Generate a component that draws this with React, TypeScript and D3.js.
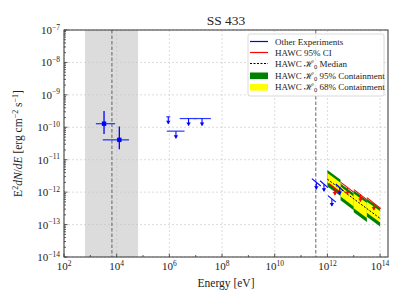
import React, { useRef, useEffect } from 'react';
import * as d3 from 'd3';

const W = 407;
const H = 305;
const PLOT = { left: 64, right: 388, top: 30, bottom: 257 };
const FONT = "'Liberation Serif', 'DejaVu Serif', serif";

// ==================== DATA ====================
// other experiments: flux points with error bars
const ptE = [3.31e3, 1.26e4];
const ptELo = [1.62e3, 2.95e3];
const ptEHi = [8.71e3, 2.95e4];
const ptF = [1.29e-10, 4.1e-11];
const ptFLo = [6.17e-11, 2.09e-11];
const ptFHi = [3.16e-10, 1.05e-10];

// other experiments: flat upper limits
const ulE = [9.1e5, 1.78e6, 5.37e6, 1.74e7];
const ulELo = [9.1e5, 9.55e5, 2.95e6, 9.55e6];
const ulEHi = [9.1e5, 3.16e6, 9.55e6, 3.16e7];
const ulF = [2.1e-10, 7.6e-11, 1.86e-10, 1.86e-10];

// other experiments: sloped upper limits (TeV)
const blueE1 = [2.57e11, 5.25e11, 1.05e12, 2.09e12];
const blueE2 = [5.62e11, 1.05e12, 2.09e12, 4.17e12];
const blueF1 = [2.6e-12, 2.24e-12, 7.8e-13, 1.78e-12];
const blueF2 = [1.55e-12, 1.38e-12, 4.9e-13, 1.07e-12];

// HAWC 95% CI upper limits per bin
const redE1 = [1.15e12, 3.24e12, 1.02e13, 3.16e13];
const redE2 = [3.24e12, 1.02e13, 3.16e13, 1.07e14];
const redF1 = [1.85e-12, 2.0e-12, 1.2e-12, 6.8e-13];
const redF2 = [9.6e-13, 9.8e-13, 5.9e-13, 3.1e-13];

// HAWC H0 containment bands per energy bin
const binLo = [1e12, 3.16e12, 1e13, 3.16e13];
const binHi = [3.16e12, 1e13, 3.16e13, 1e14];
const hi95Start = [4.8e-12, 1.86e-12, 1.12e-12, 6.3e-13];
const hi95End = [2.4e-12, 9.1e-13, 5.6e-13, 3.2e-13];
const hi68Start = [3.9e-12, 1.5e-12, 9.1e-13, 5.1e-13];
const hi68End = [1.95e-12, 7.4e-13, 4.6e-13, 2.6e-13];
const lo68Start = [2.0e-12, 7.4e-13, 3.2e-13, 2.3e-13];
const lo68End = [1.0e-12, 3.6e-13, 1.6e-13, 1.15e-13];
const lo95Start = [1.5e-12, 5.6e-13, 2.4e-13, 1.74e-13];
const lo95End = [7.6e-13, 2.75e-13, 1.2e-13, 8.7e-14];

// HAWC H0 median
const medE = [1e12, 1e14];
const medF = [2.5e-12, 1.55e-13];

// shaded region + reference lines
const bandE = [6.3e2, 6.5e4];
const bandMidE = 6.6e3;
const refLineE = 3.63e11;

const xTicks = [1e2, 1e4, 1e6, 1e8, 1e10, 1e12, 1e14];
const xTickExp = ['2', '4', '6', '8', '10', '12', '14'];
const yTicks = [1e-14, 1e-13, 1e-12, 1e-11, 1e-10, 1e-9, 1e-8, 1e-7];
const yTickExp = ['−14', '−13', '−12', '−11', '−10', '−9', '−8', '−7'];

const legendLabels = ['Other Experiments', 'HAWC 95% CI', 'HAWC ', 'HAWC ', 'HAWC '];

const App = () => {
    const svgRef = useRef<SVGSVGElement>(null);

    useEffect(() => {
        const svg = d3.select(svgRef.current);
        svg.selectAll('*').remove();

        const x = d3.scaleLog().domain([1e2, 2e14]).range([PLOT.left, PLOT.right]);
        const y = d3.scaleLog().domain([1e-14, 1e-7]).range([PLOT.bottom, PLOT.top]);

        svg.append('rect').attr('width', W).attr('height', H).attr('fill', '#fff');

        // grey shaded region
        svg.append('rect')
            .attr('x', x(bandE[0])).attr('y', PLOT.top)
            .attr('width', x(bandE[1]) - x(bandE[0]))
            .attr('height', PLOT.bottom - PLOT.top)
            .attr('fill', '#dcdcdc');

        // grid
        const grid = svg.append('g').attr('stroke', '#c4c4c4').attr('stroke-width', 0.6).attr('stroke-dasharray', '2,2');
        xTicks.forEach(t => grid.append('line').attr('x1', x(t)).attr('x2', x(t)).attr('y1', PLOT.top).attr('y2', PLOT.bottom));
        yTicks.forEach(t => grid.append('line').attr('x1', PLOT.left).attr('x2', PLOT.right).attr('y1', y(t)).attr('y2', y(t)));

        // vertical dashed reference lines
        [bandMidE, refLineE].forEach(e => {
            svg.append('line')
                .attr('x1', x(e)).attr('x2', x(e)).attr('y1', PLOT.top).attr('y2', PLOT.bottom)
                .attr('stroke', '#555').attr('stroke-width', 0.9).attr('stroke-dasharray', '3.5,2');
        });

        // HAWC containment bands
        const bandPath = (i: number, hiS: number[], hiE: number[], loS: number[], loE: number[]) =>
            `M${x(binLo[i])},${y(hiS[i])} L${x(binHi[i])},${y(hiE[i])} L${x(binHi[i])},${y(loE[i])} L${x(binLo[i])},${y(loS[i])} Z`;
        binLo.forEach((_, i) => {
            svg.append('path').attr('d', bandPath(i, hi95Start, hi95End, lo95Start, lo95End)).attr('fill', '#008000');
        });
        binLo.forEach((_, i) => {
            svg.append('path').attr('d', bandPath(i, hi68Start, hi68End, lo68Start, lo68End)).attr('fill', '#ffff00');
        });

        // median
        const line = d3.line<number>().x((_, i) => x(medE[i])).y(d => y(d));
        svg.append('path').attr('d', line(medF)).attr('fill', 'none')
            .attr('stroke', '#000').attr('stroke-width', 1).attr('stroke-dasharray', '2,1.5');

        const arrow = (g: any, cx: number, cy: number, color: string) => {
            const len = 7;
            g.append('line').attr('x1', cx).attr('x2', cx).attr('y1', cy).attr('y2', cy + len)
                .attr('stroke', color).attr('stroke-width', 1.1);
            g.append('path')
                .attr('d', `M${cx - 2.2},${cy + len - 3} L${cx + 2.2},${cy + len - 3} L${cx},${cy + len + 0.5} Z`)
                .attr('fill', color);
        };

        const slopedLimits = (e1: number[], e2: number[], f1: number[], f2: number[], color: string) => {
            const g = svg.append('g');
            e1.forEach((_, i) => {
                g.append('line')
                    .attr('x1', x(e1[i])).attr('y1', y(f1[i])).attr('x2', x(e2[i])).attr('y2', y(f2[i]))
                    .attr('stroke', color).attr('stroke-width', 1.1);
                const em = Math.sqrt(e1[i] * e2[i]);
                const fm = Math.sqrt(f1[i] * f2[i]);
                arrow(g, x(em), y(fm), color);
            });
        };
        slopedLimits(redE1, redE2, redF1, redF2, '#ff0000');
        slopedLimits(blueE1, blueE2, blueF1, blueF2, '#0000ff');

        // flat upper limits
        const ulG = svg.append('g');
        ulE.forEach((e, i) => {
            ulG.append('line').attr('x1', x(ulELo[i]) - 2).attr('x2', x(ulEHi[i]) + 2)
                .attr('y1', y(ulF[i])).attr('y2', y(ulF[i]))
                .attr('stroke', '#2a3cff').attr('stroke-width', 1.2);
            arrow(ulG, x(e), y(ulF[i]), '#0000ff');
        });

        // flux points
        const ptG = svg.append('g');
        ptE.forEach((e, i) => {
            ptG.append('line').attr('x1', x(ptELo[i])).attr('x2', x(ptEHi[i])).attr('y1', y(ptF[i])).attr('y2', y(ptF[i]))
                .attr('stroke', '#2a3cff').attr('stroke-width', 1.3);
            ptG.append('line').attr('x1', x(e)).attr('x2', x(e)).attr('y1', y(ptFLo[i])).attr('y2', y(ptFHi[i]))
                .attr('stroke', '#0000ff').attr('stroke-width', 1.3);
            ptG.append('rect').attr('x', x(e) - 2.2).attr('y', y(ptF[i]) - 2.2).attr('width', 4.4).attr('height', 4.4)
                .attr('fill', '#0000ff');
        });

        // axes frame
        svg.append('rect')
            .attr('x', PLOT.left).attr('y', PLOT.top)
            .attr('width', PLOT.right - PLOT.left).attr('height', PLOT.bottom - PLOT.top)
            .attr('fill', 'none').attr('stroke', '#333').attr('stroke-width', 1);

        // ticks (inward)
        const tk = svg.append('g').attr('stroke', '#333').attr('stroke-width', 0.8);
        xTicks.forEach(t => tk.append('line').attr('x1', x(t)).attr('x2', x(t)).attr('y1', PLOT.bottom).attr('y2', PLOT.bottom - 3.5));
        d3.range(3, 15, 2).forEach(p => tk.append('line').attr('x1', x(Math.pow(10, p))).attr('x2', x(Math.pow(10, p)))
            .attr('y1', PLOT.bottom).attr('y2', PLOT.bottom - 2));
        yTicks.forEach(t => tk.append('line').attr('x1', PLOT.left).attr('x2', PLOT.left + 3.5).attr('y1', y(t)).attr('y2', y(t)));
        yTicks.slice(0, -1).forEach(t => {
            d3.range(2, 10).forEach(k => {
                const yy = y(t * k);
                tk.append('line').attr('x1', PLOT.left).attr('x2', PLOT.left + 2).attr('y1', yy).attr('y2', yy);
            });
        });

        // tick labels
        xTicks.forEach((t, i) => {
            const txt = svg.append('text').attr('x', x(t)).attr('y', PLOT.bottom + 13)
                .attr('text-anchor', 'middle').attr('font-family', FONT).attr('font-size', 11).attr('fill', '#222');
            txt.append('tspan').text('10');
            txt.append('tspan').attr('dy', -4.5).attr('font-size', 7.5).text(xTickExp[i]);
        });
        yTicks.forEach((t, i) => {
            const txt = svg.append('text').attr('x', PLOT.left - 4).attr('y', y(t) + 4)
                .attr('text-anchor', 'end').attr('font-family', FONT).attr('font-size', 11).attr('fill', '#222');
            txt.append('tspan').text('10');
            txt.append('tspan').attr('dy', -4.5).attr('font-size', 7.5).text(yTickExp[i]);
        });

        // title and axis labels
        svg.append('text').attr('x', (PLOT.left + PLOT.right) / 2).attr('y', 25)
            .attr('text-anchor', 'middle').attr('font-family', FONT).attr('font-size', 13.5).attr('fill', '#222')
            .text('SS 433');
        svg.append('text').attr('x', (PLOT.left + PLOT.right) / 2).attr('y', 287)
            .attr('text-anchor', 'middle').attr('font-family', FONT).attr('font-size', 11.5).attr('fill', '#222')
            .text('Energy [eV]');

        const yl = svg.append('text')
            .attr('transform', `translate(22,${(PLOT.top + PLOT.bottom) / 2}) rotate(-90)`)
            .attr('text-anchor', 'middle').attr('font-family', FONT).attr('font-size', 11.5).attr('fill', '#222');
        yl.append('tspan').text('E');
        yl.append('tspan').attr('dy', -4.5).attr('font-size', 8).text('2');
        yl.append('tspan').attr('dy', 4.5).attr('font-style', 'italic').text('dN');
        yl.append('tspan').text('/');
        yl.append('tspan').attr('font-style', 'italic').text('dE');
        yl.append('tspan').text(' [erg cm');
        yl.append('tspan').attr('dy', -4.5).attr('font-size', 8).text('−2');
        yl.append('tspan').attr('dy', 4.5).text(' s');
        yl.append('tspan').attr('dy', -4.5).attr('font-size', 8).text('−1');
        yl.append('tspan').attr('dy', 4.5).text(']');

        // legend
        const lg = svg.append('g');
        lg.append('rect').attr('x', 248).attr('y', 34).attr('width', 136).attr('height', 62).attr('rx', 2)
            .attr('fill', '#fff').attr('fill-opacity', 0.85).attr('stroke', '#d0d0d0').attr('stroke-width', 0.8);
        const rows = [41.5, 52.5, 63.5, 75.8, 87.3];
        lg.append('line').attr('x1', 250).attr('x2', 268).attr('y1', rows[0]).attr('y2', rows[0]).attr('stroke', '#0000ff').attr('stroke-width', 1.2);
        lg.append('line').attr('x1', 250).attr('x2', 268).attr('y1', rows[1]).attr('y2', rows[1]).attr('stroke', '#ff0000').attr('stroke-width', 1.2);
        lg.append('line').attr('x1', 250).attr('x2', 268).attr('y1', rows[2]).attr('y2', rows[2]).attr('stroke', '#000').attr('stroke-width', 1).attr('stroke-dasharray', '2,1.5');
        lg.append('rect').attr('x', 250).attr('y', rows[3] - 3.3).attr('width', 18).attr('height', 6.6).attr('fill', '#008000');
        lg.append('rect').attr('x', 250).attr('y', rows[4] - 3.3).attr('width', 18).attr('height', 6.6).attr('fill', '#ffff00');
        const suffix = ['', '', 'Median', '95% Containment', '68% Containment'];
        legendLabels.forEach((lab, i) => {
            const t = lg.append('text').attr('x', 275).attr('y', rows[i] + 3)
                .attr('font-family', FONT).attr('font-size', 9).attr('fill', '#222');
            t.append('tspan').text(lab);
            if (i >= 2) {
                t.append('tspan').text('ℋ');
                t.append('tspan').attr('dy', 2).attr('font-size', 6.5).text('0');
                t.append('tspan').attr('dy', -2).text(' ' + suffix[i]);
            }
        });
    }, []);

    return (
        <div style={{ position: 'absolute', left: 0, top: 0 }}>
            <svg ref={svgRef} width={W} height={H} style={{ display: 'block' }} />
        </div>
    );
};

export default App;
